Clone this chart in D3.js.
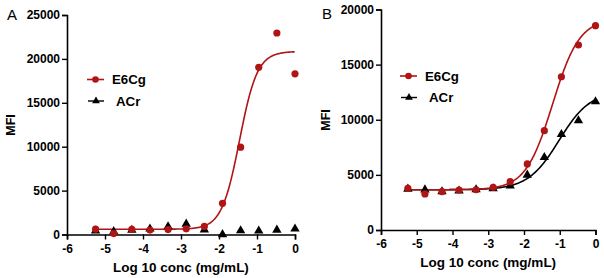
<!DOCTYPE html>
<html>
<head>
<meta charset="utf-8">
<script src="https://cdn.jsdelivr.net/npm/d3@7"></script>
<style>
  body { margin: 0; background: #fff; }
  svg text { font-family: Arial, "Liberation Sans", sans-serif; }
</style>
</head>
<body>
<svg id="chart" width="604" height="278"></svg>
<script>
// log10 concentration (3-fold dilutions from 1 mg/mL)
let log_conc = [-5.248, -4.771, -4.294, -3.817, -3.34, -2.863, -2.386, -1.908, -1.431, -0.954, -0.477, 0];

// Panel A values
let a_e6cg = [620, 100, 600, 500, 560, 650, 920, 3550, 9950, 19050, 22950, 18300];
let a_acr  = [420, 350, 500, 650, 900, 1200, 550, 0, 450, 420, 520, 650];

// Panel B values
let b_e6cg = [3780, 3270, 3480, 3630, 3650, 3870, 4380, 5990, 9010, 13900, 16780, 18530];
let b_acr  = [3720, 3650, 3480, 3550, 3660, 3750, 4000, 4990, 6590, 8680, 9920, 11640];

// fitted 4PL parameters [bottom, top, logEC50, hill]
let a_e6cg_fit = [600, 20850, -1.46, 1.85];
let b_e6cg_fit = [3650, 19200, -1.2, 1.15];
let b_acr_fit  = [3650, 12600, -1.02, 1.0];

let x_ticks = [-6, -5, -4, -3, -2, -1, 0];
let a_y_ticks = [0, 5000, 10000, 15000, 20000, 25000];
let b_y_ticks = [0, 5000, 10000, 15000, 20000];

const RED = "#b01414";
let svg = d3.select("#chart");

function four_pl(p, x) {
  return p[0] + (p[1] - p[0]) / (1 + Math.pow(10, (p[2] - x) * p[3]));
}

/**
 * Draws one panel
 */
function draw_panel(cfg) {
  let x = d3.scaleLinear().domain([-6, 0]).range([cfg.left, cfg.right]);
  let y = d3.scaleLinear().domain([0, cfg.ymax]).range([cfg.bottom, cfg.top]);
  let g = svg.append("g");

  // axes (plain hyphen minus like the original)
  let xa = g.append("g")
            .attr("transform", "translate(0," + cfg.bottom + ")")
            .call(d3.axisBottom(x).tickValues(x_ticks).tickSize(5).tickPadding(3).tickFormat(d => String(d)));
  let ya = g.append("g")
            .attr("transform", "translate(" + cfg.left + ",0)")
            .call(d3.axisLeft(y).tickValues(cfg.yticks).tickSize(5).tickPadding(2).tickFormat(d => String(d)));
  [xa, ya].forEach(function(a) {
    a.select(".domain").attr("stroke-width", 1.6);
    a.selectAll(".tick line").attr("stroke-width", 1.4);
    a.selectAll("text").attr("font-size", 12).attr("font-weight", "bold").attr("fill", "#000")
     .attr("font-family", "Arial, 'Liberation Sans', sans-serif");
  });
  xa.selectAll("text").attr("dy", "0.85em");

  // fitted curves
  let line = d3.line().x(d => x(d[0])).y(d => y(d[1]));
  let xs = d3.range(log_conc[0], 0.0001, 0.02);
  cfg.fits.forEach(function(f) {
    g.append("path")
     .attr("d", line(xs.map(v => [v, four_pl(f.p, v)])))
     .attr("fill", "none")
     .attr("stroke", f.color)
     .attr("stroke-width", 1.6);
  });

  // markers
  g.selectAll(".pt-acr").data(cfg.acr).enter().append("path")
   .attr("transform", (d, i) => "translate(" + x(log_conc[i]) + "," + y(d) + ")")
   .attr("d", d3.symbol(d3.symbolTriangle, 38))
   .attr("fill", "#000");
  g.selectAll(".pt-e6").data(cfg.e6cg).enter().append("circle")
   .attr("cx", (d, i) => x(log_conc[i]))
   .attr("cy", d => y(d))
   .attr("r", 3.6)
   .attr("fill", RED);

  // legend
  let lg = g.append("g");
  lg.append("line").attr("x1", cfg.lx).attr("x2", cfg.lx + 17).attr("y1", cfg.ly).attr("y2", cfg.ly)
    .attr("stroke", RED).attr("stroke-width", 1.6);
  lg.append("circle").attr("cx", cfg.lx + 8.5).attr("cy", cfg.ly).attr("r", 3.3).attr("fill", RED);
  lg.append("text").attr("x", cfg.lx + 25).attr("y", cfg.ly + 4.8).text("E6Cg")
    .attr("font-size", 13.3).attr("font-weight", "bold");
  let ly2 = cfg.ly + 21.5;
  lg.append("line").attr("x1", cfg.lx + 1).attr("x2", cfg.lx + 17).attr("y1", ly2).attr("y2", ly2)
    .attr("stroke", "#000").attr("stroke-width", 1.4);
  lg.append("path").attr("transform", "translate(" + (cfg.lx + 9) + "," + ly2 + ")")
    .attr("d", d3.symbol(d3.symbolTriangle, 26)).attr("fill", "#000");
  lg.append("text").attr("x", cfg.lx + 29).attr("y", ly2 + 4.8).text("ACr")
    .attr("font-size", 13.3).attr("font-weight", "bold");

  // titles
  g.append("text")
   .attr("transform", "translate(" + cfg.mfi_x + "," + cfg.mfi_y + ") rotate(-90)")
   .attr("text-anchor", "middle").attr("font-size", 12.5).attr("font-weight", "bold").text("MFI");
  g.append("text")
   .attr("x", (cfg.left + cfg.right) / 2).attr("y", cfg.bottom + 37)
   .attr("text-anchor", "middle").attr("font-size", 13.5).attr("font-weight", "bold")
   .text("Log 10 conc (mg/mL)");
  g.append("text")
   .attr("x", cfg.lab_x).attr("y", cfg.lab_y)
   .attr("font-size", 15).text(cfg.label);
}

draw_panel({
  left: 67, right: 295, top: 15, bottom: 234.5, ymax: 25000, yticks: a_y_ticks,
  e6cg: a_e6cg, acr: a_acr,
  fits: [{p: a_e6cg_fit, color: RED}],
  lx: 87, ly: 79.5, mfi_x: 15, mfi_y: 125, lab_x: 7, lab_y: 20, label: "A"
});

draw_panel({
  left: 381, right: 595.5, top: 9.5, bottom: 230, ymax: 20000, yticks: b_y_ticks,
  e6cg: b_e6cg, acr: b_acr,
  fits: [{p: b_acr_fit, color: "#000"}, {p: b_e6cg_fit, color: RED}],
  lx: 400, ly: 76, mfi_x: 330, mfi_y: 120, lab_x: 322, lab_y: 19, label: "B"
});
</script>
</body>
</html>
